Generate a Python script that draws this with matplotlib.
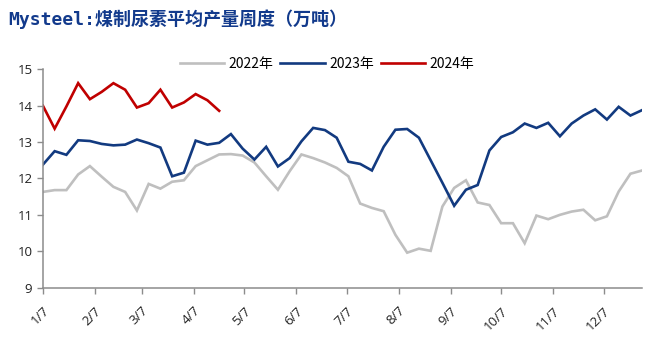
import matplotlib
matplotlib.use("Agg")
import matplotlib.pyplot as plt
import numpy as np
import pandas as pd

plt.rcParams["font.family"] = ["Noto Sans CJK SC", "DejaVu Sans"]

# ── Data ──────────────────────────────────────────────────────────────────────
weeks = pd.date_range("2023-01-07", periods=52, freq="7D")

y2022 = [11.63, 11.68, 11.68, 12.11, 12.34, 12.05, 11.77, 11.63, 11.12, 11.85,
         11.72, 11.91, 11.95, 12.34, 12.50, 12.66, 12.67, 12.63, 12.44, 12.06,
         11.69, 12.20, 12.66, 12.56, 12.44, 12.29, 12.06, 11.31, 11.19, 11.10,
         10.45, 9.96, 10.07, 10.01, 11.23, 11.74, 11.95, 11.34, 11.27, 10.77,
         10.77, 10.22, 10.98, 10.88, 11.00, 11.09, 11.14, 10.85, 10.96, 11.64,
         12.13, 12.22]

y2023 = [12.38, 12.75, 12.65, 13.05, 13.03, 12.95, 12.91, 12.93, 13.07, 12.97,
         12.85, 12.06, 12.16, 13.04, 12.93, 12.98, 13.22, 12.82, 12.52, 12.87,
         12.33, 12.56, 13.02, 13.39, 13.33, 13.12, 12.46, 12.40, 12.22, 12.87,
         13.34, 13.36, 13.12, 12.50, 11.88, 11.25, 11.69, 11.82, 12.77, 13.14,
         13.27, 13.51, 13.39, 13.53, 13.16, 13.51, 13.73, 13.90, 13.62, 13.97,
         13.73, 13.88]

y2024 = [14.00, 13.37, 13.98, 14.62, 14.18, 14.38, 14.62, 14.44, 13.95, 14.07,
         14.44, 13.95, 14.09, 14.32, 14.15, 13.86]

tick_dates = pd.to_datetime([f"2023-{m:02d}-07" for m in range(1, 13)])
tick_labels = [f"{m}/7" for m in range(1, 13)]

series = [("2022年", y2022, "#BFBFBF"),
          ("2023年", y2023, "#123A80"),
          ("2024年", y2024, "#C00000")]

# ── Chart ─────────────────────────────────────────────────────────────────────
fig = plt.figure(figsize=(6.6, 3.52), dpi=100)
ax = fig.add_axes([0.065, 0.183, 0.908, 0.62])

for label, vals, color in series:
    ax.plot(weeks[:len(vals)], vals, color=color, linewidth=1.9, label=label,
            solid_joinstyle="miter")

ax.set_ylim(9, 15)
ax.set_yticks(range(9, 16))
ax.set_xlim(weeks[0], weeks[-1])
ax.set_xticks(tick_dates)
ax.set_xticklabels(tick_labels, rotation=45, ha="right", va="top",
                   rotation_mode="anchor")

for side in ("top", "right"):
    ax.spines[side].set_visible(False)
for side in ("left", "bottom"):
    ax.spines[side].set_color("#8C8C8C")
    ax.spines[side].set_linewidth(1.1)

ax.tick_params(axis="both", colors="#8C8C8C", labelcolor="#222222",
               length=4, width=1.0, labelsize=9.5)
ax.tick_params(axis="x", pad=8)
for t in ax.get_xticklabels() + ax.get_yticklabels():
    t.set_family(["Open Sans", "DejaVu Sans"])

ax.legend(loc="center", bbox_to_anchor=(0.474, 1.025), ncol=3, frameon=False,
          fontsize=10, handlelength=3.2, handletextpad=0.3, columnspacing=0.5)

fig.text(0.012, 0.947, "Mysteel:煤制尿素平均产量周度（万吨）", color="#123A8C",
         fontsize=13, fontweight="bold", va="center",
         family=["DejaVu Sans Mono", "Noto Sans CJK SC"])

fig.savefig("out.png", dpi=100)
